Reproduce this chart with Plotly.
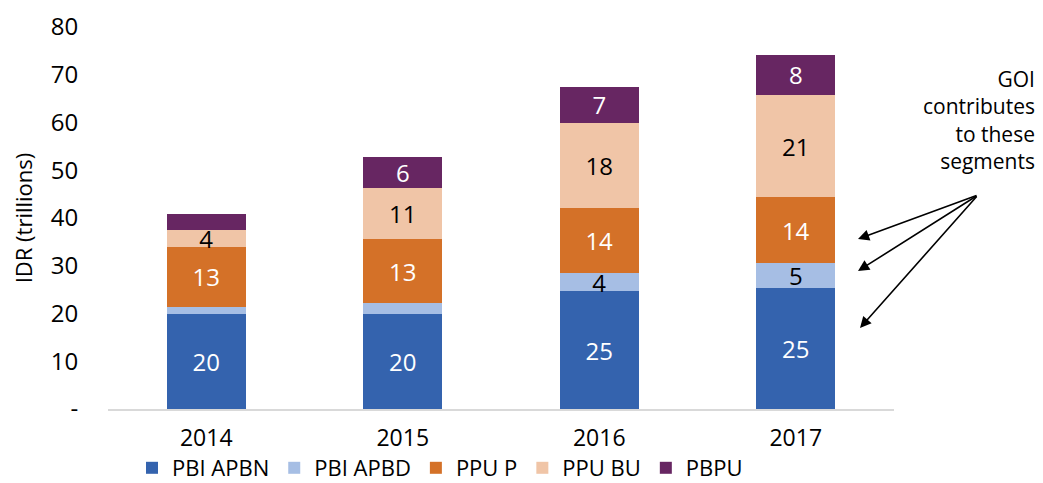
import plotly.graph_objects as go

years = ["2014", "2015", "2016", "2017"]
series_names = ["PBI APBN", "PBI APBD", "PPU P", "PPU BU", "PBPU"]

pbi_apbn = [19.9, 19.9, 24.7, 25.3]
pbi_apbd = [1.4, 2.3, 3.7, 5.2]
ppu_p = [12.7, 13.3, 13.7, 13.8]
ppu_bu = [3.5, 10.8, 17.9, 21.5]
pbpu = [3.3, 6.4, 7.4, 8.4]

lbl_pbi_apbn = ["20", "20", "25", "25"]
lbl_pbi_apbd = ["", "", "4", "5"]
lbl_ppu_p = ["13", "13", "14", "14"]
lbl_ppu_bu = ["4", "11", "18", "21"]
lbl_pbpu = ["", "6", "7", "8"]

y_tickvals = [0, 10, 20, 30, 40, 50, 60, 70, 80]
y_ticktext = ["-", "10", "20", "30", "40", "50", "60", "70", "80"]

colors = ["#3463AE", "#A6BEE4", "#D47128", "#F0C5A7", "#672662"]
text_colors = ["white", "black", "white", "black", "white"]

FONT = "Open Sans, DejaVu Sans, sans-serif"
FS = 24

fig = go.Figure()
values = [pbi_apbn, pbi_apbd, ppu_p, ppu_bu, pbpu]
labels = [lbl_pbi_apbn, lbl_pbi_apbd, lbl_ppu_p, lbl_ppu_bu, lbl_pbpu]
for name, vals, lbls, c, tc in zip(series_names, values, labels, colors, text_colors):
    fig.add_trace(go.Bar(
        x=years, y=vals, name=name, text=lbls,
        textposition="inside", insidetextanchor="middle", textangle=0,
        textfont=dict(color=tc, size=FS, family=FONT),
        marker=dict(color=c, line=dict(width=0)),
        hoverinfo="x+y+name",
    ))

# plot area: x 108..894, y 27..409
W, H = 1043, 483
L, R, T, B = 108, 1043 - 894, 27, 483 - 409
pw, ph = W - L - R, H - T - B

def px(x):
    return (x - L) / pw

def py(y):
    return (H - B - y) / ph

tail = (978, 195)
heads = [(858, 239), (858, 271), (860, 328)]
annotations = []
for hx, hy in heads:
    annotations.append(dict(
        x=px(hx), y=py(hy), xref="paper", yref="paper",
        ax=tail[0] - hx, ay=tail[1] - hy, axref="pixel", ayref="pixel",
        showarrow=True, arrowhead=2, arrowsize=1.4, arrowwidth=1.6,
        arrowcolor="black", text="",
    ))
annotations.append(dict(
    x=px(1037), y=py(63), xref="paper", yref="paper",
    xanchor="right", yanchor="top", align="right", showarrow=False,
    text="GOI<br>contributes<br>to these<br>segments",
    font=dict(size=21, color="black", family=FONT),
))

fig.update_layout(
    width=W, height=H,
    margin=dict(l=L, r=R, t=T, b=B, pad=0, autoexpand=False),
    barmode="stack", bargap=0.6,
    plot_bgcolor="white", paper_bgcolor="white",
    font=dict(family=FONT, size=FS, color="black"),
    uniformtext=dict(mode="show", minsize=FS),
    showlegend=True,
    legend=dict(orientation="h", x=px(132), xanchor="left", y=py(447), yanchor="top",
                font=dict(size=22, family=FONT), traceorder="normal",
                itemclick=False, bgcolor="rgba(0,0,0,0)"),
    xaxis=dict(showline=True, linecolor="#D9D9D9", linewidth=2,
               ticks="outside", ticklen=7, tickcolor="rgba(0,0,0,0)",
               tickfont=dict(size=23), showgrid=False, fixedrange=True,
               automargin=False),
    yaxis=dict(range=[0, 80], tickvals=y_tickvals, ticktext=y_ticktext,
               ticks="outside", ticklen=24, tickcolor="rgba(0,0,0,0)",
               showgrid=False, zeroline=False, showline=False,
               tickfont=dict(size=FS),
               title=dict(text="IDR (trillions)", font=dict(size=22), standoff=12),
               fixedrange=True, automargin=False),
    annotations=annotations,
)

fig.write_html("out.html", config={"displayModeBar": False},
               post_script="document.body.style.margin='0';")
